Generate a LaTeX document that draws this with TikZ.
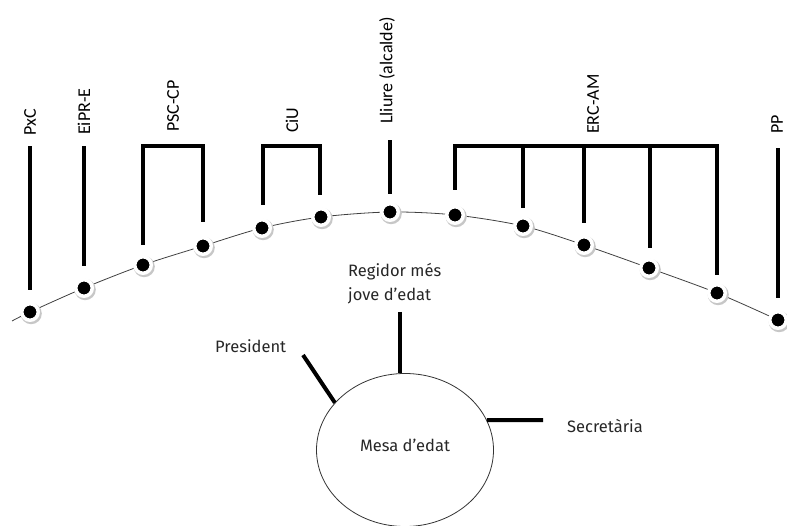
\documentclass[tikz,border=0pt]{standalone}
\usepackage{fontspec}
\setmainfont{Carlito}
\newfontfamily\lowfont{Fira Sans}
\usetikzlibrary{shapes.geometric,calc}
\begin{document}
\begin{tikzpicture}[x=1pt,y=-1pt,
  seat/.style={circle, fill=black, draw=white, line width=3.5pt, minimum size=16.5pt, inner sep=0pt},
  bar/.style={line width=4pt},
  party/.style={rotate=90, anchor=west, inner sep=0pt, font=\fontsize{18}{18}\selectfont},
  lab/.style={inner sep=0pt, font=\lowfont\fontsize{16.5}{24}\selectfont, text=black!85},
  arcline/.style={line width=0.8pt, black!75}]
\useasboundingbox (0,0) rectangle (787,526);
% seat positions
\coordinate (a0) at (12,321);
\coordinate (p1) at (30,312);
\coordinate (p2) at (84,288);
\coordinate (p3) at (143,265);
\coordinate (p4) at (203,246);
\coordinate (p5) at (262,228);
\coordinate (p6) at (321,217);
\coordinate (p7) at (390,212);
\coordinate (p8) at (455,215);
\coordinate (p9) at (523,226);
\coordinate (p10) at (584,245);
\coordinate (p11) at (649,268);
\coordinate (p12) at (717,293);
\coordinate (p13) at (778,320);
\coordinate (a1) at (787,325);
\draw[arcline] plot[smooth, tension=0.5] coordinates {(a0) (p1) (p2) (p3) (p4) (p5) (p6) (p7) (p8) (p9) (p10) (p11) (p12) (p13) (a1)};
\foreach \i in {1,...,13}{
  \fill[black!22] ($(p\i)+(1.2,1.6)$) circle (10.6pt);
  \node[seat] (s\i) at (p\i) {};
}
% party lines
\draw[bar] (30,290) -- (30,146);
\draw[bar] (84,266) -- (84,146);
\draw[bar] (143,245) -- (143,146) -- (203,146) -- (203,222);
\draw[bar] (263,205) -- (263,146) -- (320,146) -- (320,195);
\draw[bar] (390,194) -- (390,140);
\draw[bar] (455,190) -- (455,146) -- (719,146);
\draw[bar] (523,146) -- (523,208);
\draw[bar] (584,146) -- (584,223);
\draw[bar] (650,146) -- (650,248);
\draw[bar] (717,146) -- (717,275);
\draw[bar] (778,298) -- (778,148);
% party labels
\node[party] (lpxc) at (30,136) {PxC};
\node[party] (leipr) at (84,135) {EiPR-E};
\node[party] (lpsc) at (173,132) {PSC-CP};
\node[party] (lciu) at (292,133) {CiU};
\node[party] (llliure) at (387,124) {Lliure (alcalde)};
\node[party] (lerc) at (593,134) {ERC-AM};
\node[party] (lpp) at (777,134) {PP};
% mesa d'edat
\node[ellipse, draw=black!80, line width=0.8pt, minimum width=177pt, minimum height=153pt, inner sep=0pt] (mesa) at (405,450) {};
\node[lab] (mesatxt) at (405,445) {Mesa d’edat};
\node[lab, anchor=west, align=left] (regidor) at (348,284) {Regidor més\\jove d’edat};
\node[lab, anchor=west] (pres) at (215,346) {President};
\node[lab, anchor=west] (secr) at (567,426) {Secretària};
\coordinate (rtop) at (400,312);
\draw[bar] (rtop) -- (rtop |- mesa.north);
\coordinate (ptop) at (303,355);
\draw[bar] (ptop) -- (mesa.146);
\coordinate (stop) at (543,420);
\draw[bar] (mesa.20) -- (stop);
\end{tikzpicture}
\end{document}
